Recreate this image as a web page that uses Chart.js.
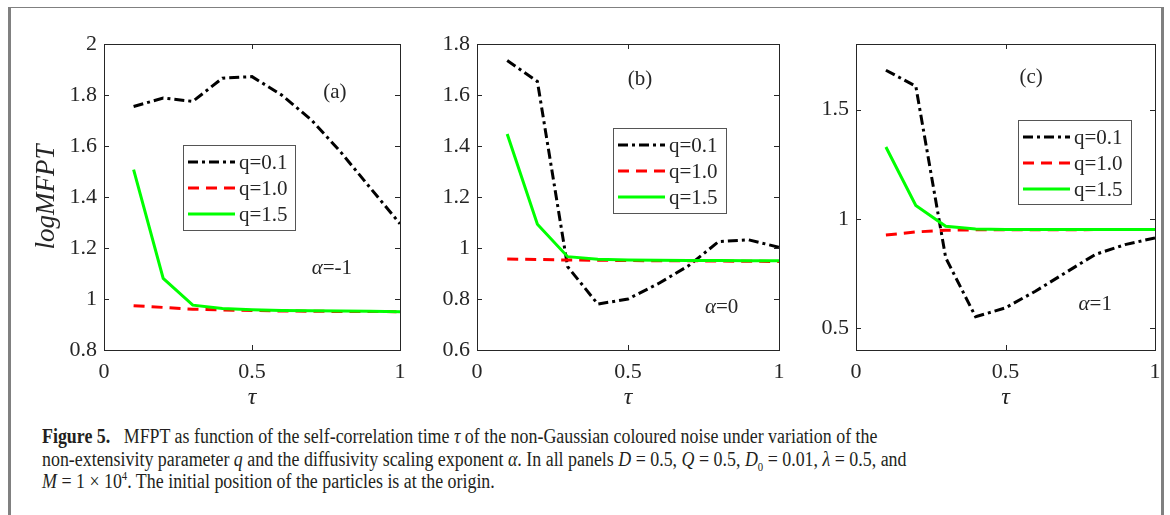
<!DOCTYPE html>
<html>
<head>
<meta charset="utf-8">
<script src="https://cdn.jsdelivr.net/npm/chart.js@4.4.1/dist/chart.umd.min.js"></script>
<style>
  body { margin: 0; background: #fff; width: 1170px; height: 515px; overflow: hidden; position: relative; }
  #frame { position: absolute; left: 8px; top: 7px; width: 1150px; height: 600px;
           border-left: 3px solid #808080; border-right: 3px solid #808080; border-top: 1.5px solid #808080; }
  canvas { position: absolute; top: 0; }
  #chartA { left: 0; }
  #chartB { left: 420px; }
  #chartC { left: 800px; }
  #caption { position: absolute; left: 42px; top: 425px; width: 1240px; font-family: 'Liberation Serif', serif;
             font-size: 20px; line-height: 22.5px; color: #231f20; white-space: nowrap;
             transform: scaleX(0.895); transform-origin: 0 0; }
  #caption i { font-style: italic; }
  sub, sup { font-size: 12px; line-height: 0; }
</style>
</head>
<body>
<div id="frame"></div>
<canvas id="chartA" width="410" height="420"></canvas>
<canvas id="chartB" width="370" height="420"></canvas>
<canvas id="chartC" width="370" height="420"></canvas>
<div id="caption"><b>Figure 5.</b>&nbsp;&nbsp; MFPT as function of the self-correlation time <i>τ</i> of the non-Gaussian coloured noise under variation of the<br>non-extensivity parameter <i>q</i> and the diffusivity scaling exponent <i>α</i>. In all panels <i>D</i> = 0.5, <i>Q</i> = 0.5, <i>D</i><sub>0</sub> = 0.01, <i>λ</i> = 0.5, and<br><i>M</i> = 1 × 10<sup>4</sup>. The initial position of the particles is at the origin.</div>
<script>
// tau values, same for every panel
const tau = [0.1, 0.2, 0.3, 0.4, 0.5, 0.6, 0.7, 0.8, 0.9, 1.0];
const seriesLabels = ['q=0.1', 'q=1.0', 'q=1.5'];

// (a) alpha = -1
const aQ01 = [1.755, 1.788, 1.775, 1.866, 1.872, 1.800, 1.703, 1.576, 1.435, 1.295];
const aQ10 = [0.974, 0.967, 0.960, 0.957, 0.955, 0.953, 0.952, 0.951, 0.951, 0.950];
const aQ15 = [1.507, 1.081, 0.976, 0.963, 0.958, 0.955, 0.954, 0.953, 0.952, 0.950];

// (b) alpha = 0
const bQ01 = [1.735, 1.653, 0.927, 0.780, 0.800, 0.860, 0.930, 1.025, 1.032, 1.003];
const bQ10 = [0.957, 0.955, 0.953, 0.952, 0.951, 0.950, 0.950, 0.949, 0.948, 0.947];
const bQ15 = [1.447, 1.093, 0.966, 0.956, 0.953, 0.952, 0.951, 0.951, 0.950, 0.950];

// (c) alpha = 1
const cQ01 = [1.680, 1.607, 0.822, 0.552, 0.593, 0.669, 0.753, 0.837, 0.882, 0.913];
const cQ10 = [0.926, 0.940, 0.948, 0.950, 0.950, 0.950, 0.950, 0.951, 0.951, 0.951];
const cQ15 = [1.329, 1.061, 0.966, 0.954, 0.951, 0.951, 0.951, 0.951, 0.951, 0.951];

// tick labels
const xTicks = [0, 0.5, 1];
const aTicksY = [0.8, 1, 1.2, 1.4, 1.6, 1.8, 2];
const bTicksY = [0.6, 0.8, 1, 1.2, 1.4, 1.6, 1.8];
const cTicksY = [0.5, 1, 1.5];

const serif = 'Liberation Serif';
const axisColor = '#262626';
const seriesColors = ['#000000', '#ff0000', '#00ff00'];
const seriesDashes = [[10, 4, 3, 4], [11, 7], []];

// box round the plot with inward ticks on all four sides (matlab style)
const boxPlugin = {
  id: 'box',
  afterDatasetsDraw(chart) {
    const { ctx, chartArea: a, scales: { x, y } } = chart;
    const tl = 5;
    ctx.save();
    ctx.strokeStyle = axisColor;
    ctx.lineWidth = 1;
    ctx.strokeRect(Math.round(a.left) + 0.5, Math.round(a.top) + 0.5,
      Math.round(a.right - a.left), Math.round(a.bottom - a.top));
    ctx.beginPath();
    x.ticks.forEach(t => {
      const px = Math.round(x.getPixelForValue(t.value)) + 0.5;
      ctx.moveTo(px, a.bottom); ctx.lineTo(px, a.bottom - tl);
      ctx.moveTo(px, a.top); ctx.lineTo(px, a.top + tl);
    });
    y.ticks.forEach(t => {
      const py = Math.round(y.getPixelForValue(t.value)) + 0.5;
      ctx.moveTo(a.left, py); ctx.lineTo(a.left + tl, py);
      ctx.moveTo(a.right, py); ctx.lineTo(a.right - tl, py);
    });
    ctx.stroke();
    ctx.restore();
  }
};

// legend box inside the plot, drawn from the datasets
const boxLegendPlugin = {
  id: 'boxLegend',
  afterDraw(chart, args, opts) {
    const ctx = chart.ctx;
    ctx.save();
    ctx.fillStyle = '#fff';
    ctx.fillRect(opts.left, opts.top, opts.width, opts.height);
    ctx.strokeStyle = '#555';
    ctx.lineWidth = 1;
    ctx.strokeRect(opts.left + 0.5, opts.top + 0.5, opts.width, opts.height);
    ctx.font = '21px "' + serif + '"';
    ctx.textBaseline = 'middle';
    chart.data.datasets.forEach((ds, i) => {
      const yy = opts.top + 17 + i * 26;
      ctx.strokeStyle = ds.borderColor;
      ctx.lineWidth = 3;
      ctx.setLineDash(ds.borderDash);
      ctx.beginPath();
      ctx.moveTo(opts.left + 5, yy);
      ctx.lineTo(opts.left + 52, yy);
      ctx.stroke();
      ctx.setLineDash([]);
      ctx.fillStyle = axisColor;
      ctx.fillText(ds.label, opts.left + 56, yy + 1);
    });
    ctx.restore();
  }
};

// text notes placed in data coordinates
const notesPlugin = {
  id: 'notes',
  afterDatasetsDraw(chart, args, opts) {
    const { ctx, scales: { x, y } } = chart;
    ctx.save();
    ctx.fillStyle = axisColor;
    ctx.textBaseline = 'middle';
    opts.items.forEach(n => {
      const fonts = n.parts.map(p => (p.italic ? 'italic ' : '') + '21px "' + serif + '"');
      let w = 0;
      n.parts.forEach((p, i) => { ctx.font = fonts[i]; w += ctx.measureText(p.t).width; });
      let px = x.getPixelForValue(n.x) - w / 2;
      const py = y.getPixelForValue(n.y);
      n.parts.forEach((p, i) => {
        ctx.font = fonts[i];
        ctx.fillText(p.t, px, py);
        px += ctx.measureText(p.t).width;
      });
    });
    ctx.restore();
  }
};

// no extra room for labels hanging past the plot edges
function noPadding(s) {
  s.paddingLeft = 0; s.paddingRight = 0; s.paddingTop = 0; s.paddingBottom = 0;
}

function makePanel(id, p) {
  const datasets = [p.q01, p.q10, p.q15].map((vals, i) => ({
    label: seriesLabels[i],
    data: vals.map((v, j) => ({ x: tau[j], y: v })),
    borderColor: seriesColors[i],
    borderDash: seriesDashes[i],
    borderWidth: 3,
    pointRadius: 0,
    tension: 0,
    fill: false,
    order: 2 - i,
  }));
  const tickFont = { family: serif, size: 22 };
  return new Chart(document.getElementById(id), {
    type: 'line',
    data: { datasets },
    plugins: [boxPlugin, boxLegendPlugin, notesPlugin],
    options: {
      responsive: false,
      animation: false,
      devicePixelRatio: 1,
      layout: { padding: { left: 0, right: p.padRight, top: 44, bottom: 0 } },
      plugins: {
        legend: { display: false },
        tooltip: { enabled: false },
        boxLegend: p.legend,
        notes: { items: p.notes },
      },
      scales: {
        x: {
          type: 'linear', min: 0, max: 1,
          grid: { display: false, drawTicks: false },
          border: { display: false },
          afterBuildTicks: s => { s.ticks = xTicks.map(v => ({ value: v })); },
          afterFit: s => { s.height = 70; noPadding(s); },
          ticks: { font: tickFont, color: axisColor, padding: 9, maxRotation: 0, callback: v => String(v) },
          title: { display: true, text: 'τ', color: axisColor, padding: { top: 0, bottom: 8 },
                   font: { family: serif, size: 24, style: 'italic' } },
        },
        y: {
          min: p.yMin, max: p.yMax,
          grid: { display: false, drawTicks: false },
          border: { display: false },
          afterBuildTicks: s => { s.ticks = p.yTicks.map(v => ({ value: v })); },
          afterFit: s => { s.width = p.yWidth; noPadding(s); },
          ticks: { font: tickFont, color: axisColor, padding: 7, callback: v => String(v) },
          title: { display: !!p.yTitle, text: p.yTitle || '', color: axisColor, padding: { top: 31, bottom: 0 },
                   font: { family: serif, size: 27, style: 'italic' } },
        },
      },
    },
  });
}

makePanel('chartA', {
  q01: aQ01, q10: aQ10, q15: aQ15, yMin: 0.8, yMax: 2, yTicks: aTicksY,
  yWidth: 104, padRight: 10, yTitle: 'logMFPT',
  legend: { left: 183, top: 145, width: 112, height: 85 },
  notes: [
    { x: 0.78, y: 1.81, parts: [{ t: '(a)' }] },
    { x: 0.77, y: 1.12, parts: [{ t: 'α', italic: true }, { t: '=-1' }] },
  ],
});
makePanel('chartB', {
  q01: bQ01, q10: bQ10, q15: bQ15, yMin: 0.6, yMax: 1.8, yTicks: bTicksY,
  yWidth: 57, padRight: 11,
  legend: { left: 193, top: 128, width: 113, height: 85 },
  notes: [
    { x: 0.54, y: 1.66, parts: [{ t: '(b)' }] },
    { x: 0.81, y: 0.765, parts: [{ t: 'α', italic: true }, { t: '=0' }] },
  ],
});
makePanel('chartC', {
  q01: cQ01, q10: cQ10, q15: cQ15, yMin: 0.4, yMax: 1.8, yTicks: cTicksY,
  yWidth: 56, padRight: 15,
  legend: { left: 218, top: 120, width: 113, height: 84 },
  notes: [
    { x: 0.586, y: 1.648, parts: [{ t: '(c)' }] },
    { x: 0.8, y: 0.61, parts: [{ t: 'α', italic: true }, { t: '=1' }] },
  ],
});
</script>
</body>
</html>
